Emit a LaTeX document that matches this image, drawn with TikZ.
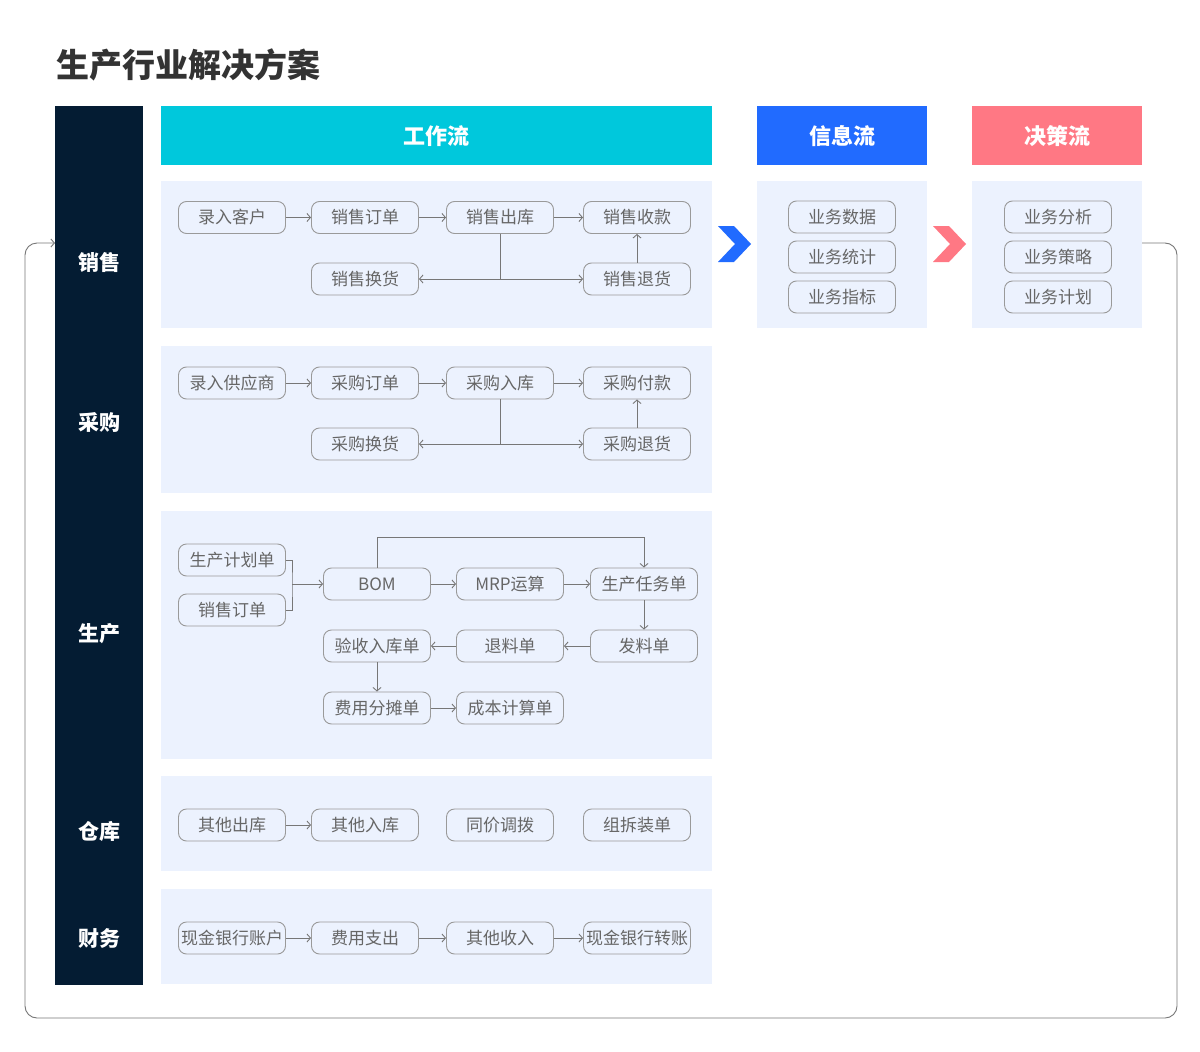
\documentclass[tikz,border=0pt]{standalone}
\usepackage{fontspec}
\setmainfont{Noto Sans CJK SC}
\usetikzlibrary{arrows.meta}
\definecolor{navy}{HTML}{041C33}
\definecolor{cyanh}{HTML}{00C8DC}
\definecolor{blueh}{HTML}{216BFF}
\definecolor{pinkh}{HTML}{FF7884}
\definecolor{panel}{HTML}{ECF2FE}
\definecolor{nodeb}{HTML}{9A9A9A}
\definecolor{txt}{HTML}{666666}
\definecolor{conn}{HTML}{777777}
\definecolor{titlec}{HTML}{333333}
\begin{document}
\begin{tikzpicture}[x=1pt,y=-1pt,
  box/.style={draw=nodeb, line width=0.9pt, rounded corners=8pt, minimum width=107pt, minimum height=32pt, inner sep=0pt, text=txt, font=\fontsize{17}{17}\selectfont},
  arr/.style={draw=conn, line width=0.9pt, -{Straight Barb[length=3.5pt,width=8pt]}},
  ln/.style={draw=conn, line width=0.9pt},
  pnl/.style={fill=panel, anchor=north west, inner sep=0pt},
  hdr/.style={anchor=north west, inner sep=0pt, minimum height=59pt, text=white, font=\fontsize{22}{22}\selectfont\bfseries},
  lbl/.style={text=white, font=\fontsize{21}{21}\selectfont\bfseries}]
\path[use as bounding box, fill=white] (0,0) rectangle (1200,1052);

% title
\node[anchor=west, text=titlec, font=\fontsize{33}{33}\selectfont\bfseries] (title) at (53,65) {生产行业解决方案};

% left bar
\node[fill=navy, anchor=north west, inner sep=0pt, minimum width=88pt, minimum height=879pt] (bar) at (55,106) {};
\node[lbl] (lsale) at (99,262) {销售};
\node[lbl] (lbuy) at (99,422) {采购};
\node[lbl] (lprod) at (99,634) {生产};
\node[lbl] (lware) at (99,831) {仓库};
\node[lbl] (lfin) at (99,938) {财务};

% headers
\node[hdr, fill=cyanh, minimum width=551pt] (hwork) at (161,106) {工作流};
\node[hdr, fill=blueh, minimum width=170pt] (hinfo) at (757,106) {信息流};
\node[hdr, fill=pinkh, minimum width=170pt] (hdec) at (972,106) {决策流};

% panels
\node[pnl, minimum width=551pt, minimum height=147pt] (psale) at (161,181) {};
\node[pnl, minimum width=551pt, minimum height=147pt] (pbuy) at (161,346) {};
\node[pnl, minimum width=551pt, minimum height=248pt] (pprod) at (161,511) {};
\node[pnl, minimum width=551pt, minimum height=95pt] (pware) at (161,776) {};
\node[pnl, minimum width=551pt, minimum height=95pt] (pfin) at (161,889) {};
\node[pnl, minimum width=170pt, minimum height=147pt] (pinfo) at (757,181) {};
\node[pnl, minimum width=170pt, minimum height=147pt] (pdec) at (972,181) {};

% chevrons
\fill[blueh] (718,226) -- (734,226) -- (751,244) -- (734,262) -- (718,262) -- (735,244) -- cycle;
\fill[pinkh] (933,226) -- (949,226) -- (966,244) -- (949,262) -- (933,262) -- (950,244) -- cycle;

% sales
\node[box] (s1) at (232,217.5) {录入客户};
\node[box] (s2) at (365,217.5) {销售订单};
\node[box] (s3) at (500,217.5) {销售出库};
\node[box] (s4) at (637,217.5) {销售收款};
\node[box] (s5) at (365,279) {销售换货};
\node[box] (s6) at (637,279) {销售退货};
\draw[arr] (s1) -- (s2);
\draw[arr] (s2) -- (s3);
\draw[arr] (s3) -- (s4);
\draw[arr] (s3.south) |- (s5.east);
\draw[arr] (s3.south) |- (s6.west);
\draw[arr] (s6) -- (s4);

% purchase
\node[box] (b1) at (232,383) {录入供应商};
\node[box] (b2) at (365,383) {采购订单};
\node[box] (b3) at (500,383) {采购入库};
\node[box] (b4) at (637,383) {采购付款};
\node[box] (b5) at (365,444) {采购换货};
\node[box] (b6) at (637,444) {采购退货};
\draw[arr] (b1) -- (b2);
\draw[arr] (b2) -- (b3);
\draw[arr] (b3) -- (b4);
\draw[arr] (b3.south) |- (b5.east);
\draw[arr] (b3.south) |- (b6.west);
\draw[arr] (b6) -- (b4);

% production
\node[box] (p1) at (232,560) {生产计划单};
\node[box] (p2) at (232,610) {销售订单};
\node[box] (bom) at (377,584) {BOM};
\node[box] (mrp) at (510,584) {MRP运算};
\node[box] (task) at (644,584) {生产任务单};
\node[box] (rcv) at (377,646) {验收入库单};
\node[box] (ret) at (510,646) {退料单};
\node[box] (iss) at (644,646) {发料单};
\node[box] (fee) at (377,708) {费用分摊单};
\node[box] (cost) at (510,708) {成本计算单};
\coordinate (brk) at (292,584);
\coordinate (topl) at (377,537);
\draw[ln] (p1.east) -| (brk) |- (p2.east);
\draw[arr] (brk) -- (bom.west);
\draw[arr] (bom.north) -- (topl) -| (task.north);
\draw[arr] (bom) -- (mrp);
\draw[arr] (mrp) -- (task);
\draw[arr] (task) -- (iss);
\draw[arr] (iss) -- (ret);
\draw[arr] (ret) -- (rcv);
\draw[arr] (rcv) -- (fee);
\draw[arr] (fee) -- (cost);

% warehouse
\node[box] (w1) at (232,825) {其他出库};
\node[box] (w2) at (365,825) {其他入库};
\node[box] (w3) at (500,825) {同价调拨};
\node[box] (w4) at (637,825) {组拆装单};
\draw[arr] (w1) -- (w2);

% finance
\node[box] (f1) at (232,938) {现金银行账户};
\node[box] (f2) at (365,938) {费用支出};
\node[box] (f3) at (500,938) {其他收入};
\node[box] (f4) at (637,938) {现金银行转账};
\draw[arr] (f1) -- (f2);
\draw[arr] (f2) -- (f3);
\draw[arr] (f3) -- (f4);

% info
\node[box] (i1) at (842,217) {业务数据};
\node[box] (i2) at (842,257) {业务统计};
\node[box] (i3) at (842,297) {业务指标};
% decision
\node[box] (d1) at (1058,217) {业务分析};
\node[box] (d2) at (1058,257) {业务策略};
\node[box] (d3) at (1058,297) {业务计划};

% loop
\coordinate (loopS) at (1142,243);
\coordinate (loopE) at (55,243);
\draw[arr, rounded corners=12pt] (loopS) -- (1177,243) -- (1177,1018) -- (25,1018) -- (25,243) -- (loopE);
\end{tikzpicture}
\end{document}
